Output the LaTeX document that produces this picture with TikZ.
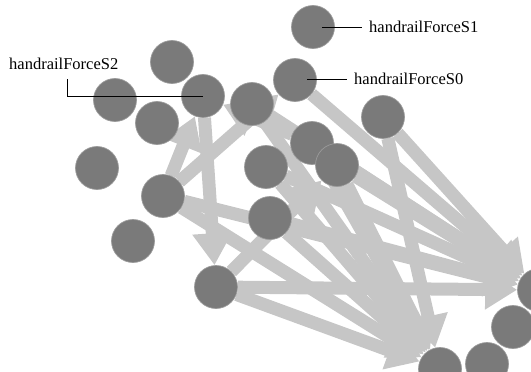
\documentclass[tikz,border=0pt]{standalone}
\usepackage{fontspec}
\setmainfont{Liberation Serif}
\usetikzlibrary{arrows.meta,backgrounds}
\definecolor{edgegray}{RGB}{198,198,198}
\definecolor{nodegray}{RGB}{122,122,122}
\begin{document}
\begin{tikzpicture}[x=1pt,y=-1pt,
  vertex/.style={circle,fill=nodegray,draw=nodegray!75!white,line width=0.7pt,minimum size=43pt,inner sep=0pt},
  link/.style={draw=edgegray,line width=13pt,-{Triangle[length=32pt,width=38pt]}},
  callout/.style={draw=black,line width=1pt},
  lbl/.style={font=\fontsize{16.5}{18}\selectfont,inner sep=0pt,anchor=west}]
\useasboundingbox (0,0) rectangle (531,372);
\clip (0,0) rectangle (531,372);
% nodes
\node[vertex] (S1) at (313,27) {};
\node[vertex] (n3) at (172,62) {};
\node[vertex] (n5) at (115,100) {};
\node[vertex] (n6) at (157,123) {};
\node[vertex] (n7) at (252,104) {};
\node[vertex] (S2) at (203,96) {};
\node[vertex] (S0) at (295,80) {};
\node[vertex] (n8) at (383,117) {};
\node[vertex] (n9) at (97,168) {};
\node[vertex] (n10) at (163,196) {};
\node[vertex] (n11) at (266,167) {};
\node[vertex] (n12) at (312,143) {};
\node[vertex] (n13) at (337,165) {};
\node[vertex] (n14) at (270,218) {};
\node[vertex] (n15) at (133,241) {};
\node[vertex] (n16) at (216,287) {};
\node[vertex] (T1) at (539,290) {};
\node[vertex] (n18) at (513,327) {};
\node[vertex] (T2) at (440,369) {};
\node[vertex] (n20) at (487,364) {};
% edges
\begin{scope}[on background layer]
\foreach \s in {S0,n8,n13,n12,n7,n11,n14,n16,n10}
  \draw[link] (\s) -- (T1);
\foreach \s in {n8,n13,n12,n11,n14,n16,n10,n7}
  \draw[link] (\s) -- (T2);
\draw[link] (S2) -- (n16);
\draw[link] (n10) -- (S2);
\draw[link] (n12) -- (S2);
\draw[link] (n10) -- (S0);
\draw[link] (n16) -- (n13);
\end{scope}
% labels
\node[lbl] (t1) at (369,27) {handrailForceS1};
\node[lbl] (t0) at (354,79) {handrailForceS0};
\node[lbl] (t2) at (9,64) {handrailForceS2};
\coordinate (c2) at (67,79);
\draw[callout] ([xshift=9pt]S1.center) -- ([xshift=-7pt]t1.west);
\draw[callout] ([xshift=12pt,yshift=1pt]S0.center) -- ([xshift=-7pt]t0.west);
\draw[callout] (S2.center) -| (c2);
\end{tikzpicture}
\end{document}
